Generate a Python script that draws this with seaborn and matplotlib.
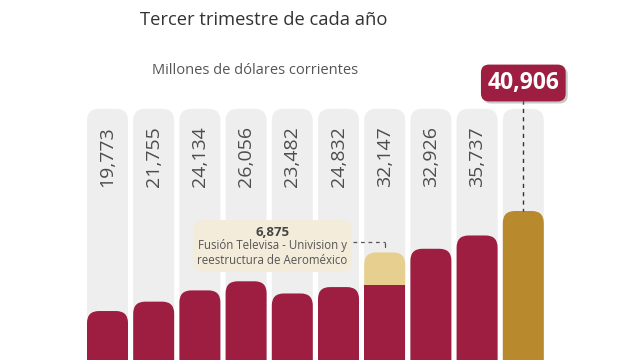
import matplotlib
matplotlib.use("Agg")
import matplotlib.pyplot as plt
import seaborn as sns
import pandas as pd
from matplotlib.patches import FancyBboxPatch, Rectangle
import matplotlib.patheffects as pe

# ---- data ----
periods = ["2016", "2017", "2018", "2019", "2020", "2021", "2022", "2023", "2024", "2025"]
totals = [19773, 21755, 24134, 26056, 23482, 24832, 32147, 32926, 35737, 40906]
extraordinary = [0, 0, 0, 0, 0, 0, 6875, 0, 0, 0]
title = "Tercer trimestre de cada año"
subtitle = "Millones de dólares corrientes"
note_title = "6,875"
note_text = "Fusión Televisa - Univision y\nreestructura de Aeroméxico"

RED = "#9d1e41"
GOLD = "#b8892d"
PALE = "#e6cf8f"
BG = "#eeeeee"
BOX = "#f3ecdb"
BG_TOP = 62500

df = pd.DataFrame({"period": periods, "total": totals, "extra": extraordinary})
df["base"] = df["total"] - df["extra"]

sns.set_theme(style="white")
plt.rcParams["font.family"] = ["Open Sans", "DejaVu Sans"]

fig = plt.figure(figsize=(6.4, 3.6), dpi=100)
ax = fig.add_axes([0, 0, 1, 1])

PX_X = 46.2        # pixels per category step
Y_PER_PX = 211.3   # value units per pixel
X0 = 107.5         # pixel centre of first category
BASE_PX = 404.6    # pixel row of value 0 (below visible area)

def ypx(px):
    return (BASE_PX - px) * Y_PER_PX

def xpx(px):
    return (px - X0) / PX_X

aspect = Y_PER_PX * PX_X
radius = 12 / PX_X
BW = 41 / PX_X

def restyle(container, colors, rounded, z):
    for p, c, r in zip(container.patches, colors, rounded):
        x, y, w, h = p.get_x(), p.get_y(), p.get_width(), p.get_height()
        p.set_visible(False)
        if c is None:
            continue
        if r:
            patch = FancyBboxPatch((x, y), w, h,
                                   boxstyle=f"round,pad=0,rounding_size={radius}",
                                   mutation_aspect=aspect, fc=c, ec="none", zorder=z)
        else:
            patch = Rectangle((x, y), w, h, fc=c, ec="none", zorder=z)
        ax.add_patch(patch)

# background pills
sns.barplot(data=df.assign(bg=BG_TOP), x="period", y="bg", width=BW, ax=ax, color=BG)
restyle(ax.containers[-1], [BG] * len(df), [True] * len(df), 1)

# total bars
tot_colors = []
for i, e in enumerate(extraordinary):
    if i == len(df) - 1:
        tot_colors.append(GOLD)
    elif e > 0:
        tot_colors.append(PALE)
    else:
        tot_colors.append(RED)
sns.barplot(data=df, x="period", y="total", width=BW, ax=ax, color=RED)
restyle(ax.containers[-1], tot_colors, [True] * len(df), 3)

# base part of bars with extraordinary amount
sns.barplot(data=df, x="period", y="base", width=BW, ax=ax, color=RED)
restyle(ax.containers[-1], [RED if e > 0 else None for e in extraordinary], [False] * len(df), 4)

ax.set_xlim(xpx(0), xpx(640))
ax.set_ylim(ypx(360), ypx(0))
ax.axis("off")

# rotated value labels
for i, v in enumerate(totals[:-1]):
    ax.text(i, ypx(126), f"{v:,}", rotation=90, ha="center", va="top",
            fontsize=14, color="#4d4d4d", zorder=5)

# highlighted last value
last = len(totals) - 1
t = ax.text(last, ypx(83), f"{totals[last]:,}", ha="center", va="center",
            fontsize=16.5, fontweight="bold", color="white", zorder=7,
            bbox=dict(boxstyle="round,pad=0.28,rounding_size=0.35", fc=RED, ec="none"))
t.get_bbox_patch().set_path_effects([pe.withSimplePatchShadow(offset=(1.5, -1.5), shadow_rgbFace="#888888", alpha=0.45)])
ax.plot([last, last], [ypx(100), totals[last]], color="#333333", lw=1,
        linestyle=(0, (3, 3)), zorder=6)

# annotation for extraordinary amount
k = extraordinary.index(max(extraordinary))
note_box = FancyBboxPatch((xpx(193), ypx(272)), xpx(352) - xpx(193), ypx(220) - ypx(272),
                          boxstyle=f"round,pad=0,rounding_size={10 / PX_X}",
                          mutation_aspect=aspect, fc=BOX, ec="none", zorder=6)
ax.add_patch(note_box)
ax.text(xpx(272.5), ypx(232), note_title, ha="center", va="center", fontsize=9.5,
        fontweight="bold", color="#444444", zorder=7)
ax.text(xpx(272.5), ypx(253), note_text, ha="center", va="center", fontsize=8.3,
        color="#555555", zorder=7, linespacing=1.3)
ax.plot([xpx(353), k], [ypx(242), ypx(242)], color="#555555", lw=0.9,
        linestyle=(0, (3, 3)), zorder=6)
ax.plot([k, k], [ypx(243), ypx(247)], color="#555555", lw=0.9, zorder=6)

fig.text(264 / 640, 1 - 20 / 360, title, ha="center", va="center", fontsize=13.2, color="#333333")
fig.text(255 / 640, 1 - 70 / 360, subtitle, ha="center", va="center", fontsize=10.5, color="#555555")

fig.savefig("out.png", dpi=100)
